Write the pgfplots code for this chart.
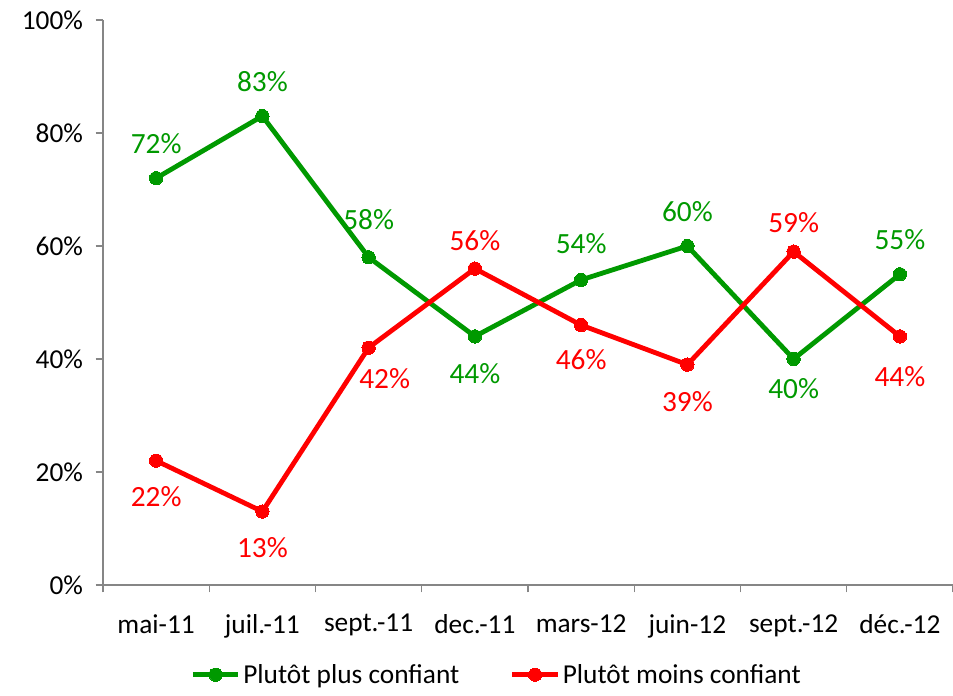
\documentclass[border=0pt]{standalone}
\usepackage{pgfplots}
\pgfplotsset{compat=1.18}
\usepackage{pgfplotstable}
\usepackage{fontspec}
\setmainfont{Carlito}
\definecolor{cgreen}{RGB}{0,153,0}
\definecolor{cred}{RGB}{255,0,0}
\definecolor{cgray}{RGB}{134,134,134}
\pgfplotstableread{
x y dx dy
0 72 0 26
1 83 0 26
2 58 0 28
3 44 0 -28
4 54 0 27
5 60 0 26
6 40 0 -22
7 55 0 26
}\green
\pgfplotstableread{
x y dx dy
0 22 0 -27
1 13 0 -27
2 42 12 -23
3 56 0 21
4 46 0 -26
5 39 0 -28
6 59 0 22
7 44 0 -30
}\red
\begin{document}
\begin{tikzpicture}
\begin{axis}[
  scale only axis,
  width=637.5pt, height=423.75pt,
  xmin=-0.5, xmax=7.5, ymin=0, ymax=100,
  axis x line*=bottom, axis y line*=left,
  axis line style={cgray, line width=1pt, -},
  tick style={cgray, line width=1pt},
  tick align=outside,
  major tick length=5.5pt,
  xtick={-0.5,0.5,...,7.5},
  x tick label as interval,
  xticklabels={mai-11,juil.-11,sept.-11,dec.-11,mars-12,juin-12,sept.-12,déc.-12},
  ytick={0,20,...,100},
  yticklabels={0\%,20\%,40\%,60\%,80\%,100\%},
  tick label style={font=\fontsize{20.5}{24}\selectfont, black},
  xticklabel style={yshift=-13pt},
  yticklabel style={xshift=-6pt},
  point meta=y,
  nodes near coords={\pgfmathprintnumber[assume math mode=true]{\pgfplotspointmeta}\%},
  visualization depends on={\thisrow{dx} \as \dx},
  visualization depends on={\thisrow{dy} \as \dy},
  nodes near coords style={anchor=center, xshift=\dx pt, yshift=\dy pt, font=\fontsize{22}{26}\selectfont},
  legend style={draw=none, at={(0.4635,-0.135)}, anchor=north, legend columns=2,
    font=\fontsize{20.5}{24}\selectfont,
    /tikz/every even column/.append style={column sep=36pt},
    inner sep=0pt},
  legend image code/.code={\draw[#1, mark repeat=2, mark phase=2] plot coordinates {(0pt,0pt) (17pt,0pt) (34pt,0pt)};},
  clip=false,
]
\addplot[cgreen, line width=3.6pt, mark=*, mark size=5pt, mark options={solid, fill=cgreen, line width=0pt},
  nodes near coords style={text=cgreen}] table[x=x,y=y] {\green};
\addlegendentry{Plutôt plus confiant}
\addplot[cred, line width=3.6pt, mark=*, mark size=5pt, mark options={solid, fill=cred, line width=0pt},
  nodes near coords style={text=cred}] table[x=x,y=y] {\red};
\addlegendentry{Plutôt moins confiant}
\end{axis}
\pgfresetboundingbox
\path[use as bounding box] (current axis.south west) ++(-77.25pt,-83.25pt) rectangle ([shift={(0pt,15pt)}]current axis.north east);
\end{tikzpicture}
\end{document}
